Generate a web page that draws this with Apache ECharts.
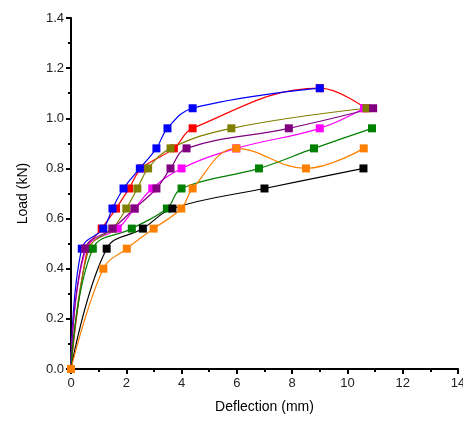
<!DOCTYPE html>
<html>
<head>
<meta charset="utf-8">
<script src="https://cdn.jsdelivr.net/npm/echarts@6/dist/echarts.min.js"></script>
<style>html,body{margin:0;padding:0;background:#fff;}#c{width:463px;height:425px;}</style>
</head>
<body>
<div id="c"></div>
<script>
var xTicks = [0, 2, 4, 6, 8, 10, 12, 14];
var yTicks = [0.0, 0.2, 0.4, 0.6, 0.8, 1.0, 1.2, 1.4];

var redData = [[0,0],[0.6,0.48],[1.11,0.56],[1.63,0.64],[2.1,0.72],[2.55,0.8],[3.72,0.88],[4.4,0.96],[9.0,1.12],[10.65,1.04]];
var blueData = [[0,0],[0.39,0.48],[1.17,0.56],[1.5,0.64],[1.9,0.72],[2.49,0.8],[3.09,0.88],[3.49,0.96],[4.4,1.04],[9.0,1.12]];
var magentaData = [[0,0],[0.55,0.48],[1.69,0.56],[2.3,0.64],[2.94,0.72],[4.0,0.8],[5.98,0.88],[9.0,0.96],[10.6,1.04]];
var oliveData = [[0,0],[0.65,0.48],[1.5,0.56],[2.0,0.64],[2.4,0.72],[2.79,0.8],[3.6,0.88],[5.8,0.96],[10.69,1.04]];
var purpleData = [[0,0],[0.51,0.48],[1.5,0.56],[2.3,0.64],[3.09,0.72],[3.6,0.8],[4.18,0.88],[7.88,0.96],[10.93,1.04]];
var greenData = [[0,0],[0.79,0.48],[2.2,0.56],[3.47,0.64],[4.0,0.72],[6.8,0.8],[8.79,0.88],[10.89,0.96]];
var blackData = [[0,0],[1.29,0.48],[2.6,0.56],[3.67,0.64],[7.0,0.72],[10.58,0.8]];
var orangeData = [[0,0],[1.17,0.4],[2.02,0.48],[2.99,0.56],[3.99,0.64],[4.4,0.72],[5.98,0.88],[8.5,0.8],[10.59,0.88]];

var seriesList = [
  ['red', redData, '#FF0000'],
  ['blue', blueData, '#0000FF'],
  ['magenta', magentaData, '#FF00FF'],
  ['olive', oliveData, '#808000'],
  ['purple', purpleData, '#800080'],
  ['green', greenData, '#008000'],
  ['black', blackData, '#000000'],
  ['orange', orangeData, '#FF8000']
];

var chart = echarts.init(document.getElementById('c'), null, {renderer: 'canvas'});
var font = 'Liberation Sans, Arial, sans-serif';
chart.setOption({
  backgroundColor: '#fff',
  animation: false,
  grid: {left: 71, right: 5, top: 18, bottom: 56, containLabel: false, outerBoundsMode: 'none'},
  xAxis: {
    type: 'value', min: xTicks[0], max: xTicks[xTicks.length-1], interval: 2,
    name: 'Deflection (mm)', nameLocation: 'middle', nameGap: 31,
    nameTextStyle: {fontFamily: font, fontSize: 14, color: '#000'},
    axisLine: {show: true, onZero: false, lineStyle: {color: '#000', width: 2}},
    axisTick: {show: true, inside: false, length: 5, lineStyle: {color: '#000', width: 2}},
    minorTick: {show: true, splitNumber: 2, length: 3, lineStyle: {color: '#000', width: 2}},
    axisLabel: {fontFamily: font, fontSize: 13, color: '#222', margin: 8},
    splitLine: {show: false}
  },
  yAxis: {
    type: 'value', min: yTicks[0], max: yTicks[yTicks.length-1], interval: 0.2,
    name: 'Load (kN)', nameLocation: 'middle', nameGap: 41,
    nameTextStyle: {fontFamily: font, fontSize: 14, color: '#000'},
    axisLine: {show: true, onZero: false, lineStyle: {color: '#000', width: 2}},
    axisTick: {show: true, inside: false, length: 5, lineStyle: {color: '#000', width: 2}},
    minorTick: {show: true, splitNumber: 2, length: 3, lineStyle: {color: '#000', width: 2}},
    axisLabel: {fontFamily: font, fontSize: 13, color: '#222', margin: 7,
      formatter: function(v){ return v.toFixed(1); }},
    splitLine: {show: false}
  },
  series: seriesList.map(function(s){
    return {
      name: s[0], type: 'line', data: s[1], smooth: 0.4,
      symbol: 'rect', symbolSize: 8, showSymbol: true,
      lineStyle: {color: s[2], width: 1.2},
      itemStyle: {color: s[2], borderWidth: 0}
    };
  })
});
</script>
</body>
</html>
